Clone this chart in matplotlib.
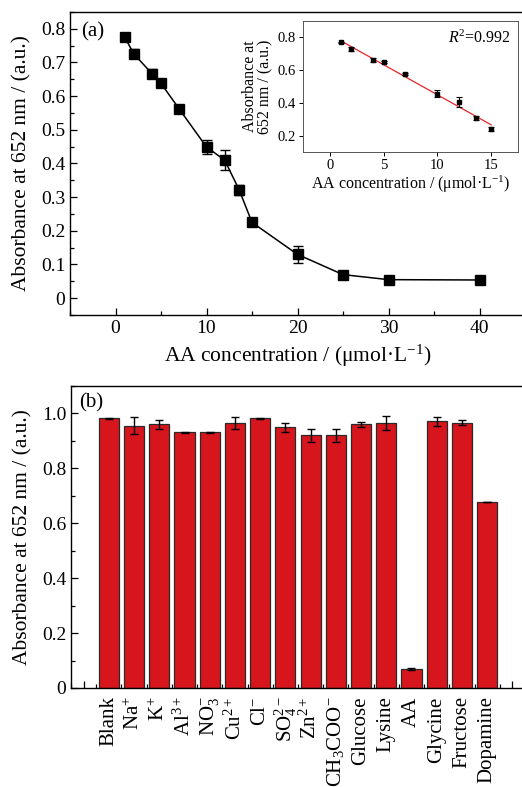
import numpy as np
import matplotlib
matplotlib.use("Agg")
import matplotlib.pyplot as plt
from matplotlib.ticker import MultipleLocator, FixedLocator

plt.rcParams['font.family'] = ['Liberation Serif', 'DejaVu Serif']
plt.rcParams['mathtext.fontset'] = 'custom'
plt.rcParams['mathtext.rm'] = 'Liberation Serif'
plt.rcParams['mathtext.it'] = 'Liberation Serif:italic'
plt.rcParams['mathtext.bf'] = 'Liberation Serif:bold'

# (a) absorbance vs AA concentration
aa_conc = [1, 2, 4, 5, 7, 10, 12, 13.6, 15, 20, 25, 30, 40]
aa_abs = [0.776, 0.726, 0.667, 0.638, 0.562, 0.449, 0.410, 0.321, 0.225,
          0.130, 0.070, 0.055, 0.054]
aa_err = [0.004, 0.014, 0.014, 0.004, 0.006, 0.020, 0.030, 0.016, 0.010,
          0.025, 0.004, 0.004, 0.010]

# inset: linear range
lin_conc = [1, 2, 4, 5, 7, 10, 12, 13.6, 15]
lin_abs = [0.770, 0.729, 0.663, 0.648, 0.576, 0.457, 0.406, 0.305, 0.240]
lin_err = [0.004, 0.012, 0.012, 0.005, 0.008, 0.020, 0.030, 0.012, 0.010]
r2_text = r'$R^2$=0.992'

# (b) selectivity
species = ['Blank', 'Na$^{+}$', 'K$^{+}$', 'Al$^{3+}$', 'NO$_3^{-}$', 'Cu$^{2+}$',
           'Cl$^{-}$', 'SO$_4^{2-}$', 'Zn$^{2+}$', 'CH$_3$COO$^{-}$', 'Glucose',
           'Lysine', 'AA', 'Glycine', 'Fructose', 'Dopamine']
sel_abs = [0.983, 0.956, 0.961, 0.931, 0.931, 0.966, 0.983, 0.949, 0.921,
           0.921, 0.961, 0.965, 0.069, 0.971, 0.967, 0.676]
sel_err = [0.002, 0.031, 0.016, 0.003, 0.003, 0.022, 0.002, 0.017, 0.024,
           0.024, 0.009, 0.025, 0.004, 0.015, 0.009, 0.0]

W, H = 522, 787
fig = plt.figure(figsize=(W / 100, H / 100), dpi=100)

def px_axes(l, t, r, b):
    return fig.add_axes([l / W, 1 - b / H, (r - l) / W, (b - t) / H])

def style_main(ax):
    ax.tick_params(which='both', direction='in', top=False, right=False,
                   labelsize=14, width=0.9)
    ax.tick_params(which='major', length=5)
    ax.tick_params(which='minor', length=3)
    for s in ax.spines.values():
        s.set_linewidth(1.0)

# ---- panel (a)
ax1 = px_axes(70, 12, 525, 315)
ax1.errorbar(aa_conc, aa_abs, yerr=aa_err, color='black', lw=1.1,
             marker='s', ms=6.5, capsize=3.5, elinewidth=1.0, capthick=1.0)
ax1.set_xlim(-5, 45)
ax1.set_ylim(-0.05, 0.85)
ax1.xaxis.set_major_locator(MultipleLocator(10))
ax1.xaxis.set_minor_locator(MultipleLocator(5))
ax1.yaxis.set_major_locator(MultipleLocator(0.1))
ax1.yaxis.set_minor_locator(MultipleLocator(0.05))
ax1.yaxis.set_major_formatter(lambda v, p: '0' if abs(v) < 1e-9 else f'{v:.1f}')
style_main(ax1)
ax1.set_xlabel('AA concentration / (μmol·L$^{-1}$)', fontsize=15.5, labelpad=4)
ax1.set_ylabel('Absorbance at 652 nm / (a.u.)', fontsize=15.5, labelpad=7)
ax1.text(0.025, 0.965, '(a)', transform=ax1.transAxes, fontsize=15,
         ha='left', va='top')

# inset
axi = px_axes(303, 21, 518, 152)
axi.errorbar(lin_conc, lin_abs, yerr=lin_err, color='black', lw=0,
             marker='s', ms=3, capsize=2, elinewidth=0.8, capthick=0.8)
k, b0 = np.polyfit(lin_conc, lin_abs, 1)
xf = np.array([lin_conc[0], lin_conc[-1]])
axi.plot(xf, k * xf + b0, color='#e8242a', lw=0.9, zorder=1)
axi.set_xlim(-2.5, 17.5)
axi.set_ylim(0.1, 0.9)
axi.xaxis.set_major_locator(MultipleLocator(5))
axi.yaxis.set_major_locator(MultipleLocator(0.2))
axi.tick_params(direction='out', labelsize=10.5, length=3, width=0.7, pad=2)
for s in axi.spines.values():
    s.set_linewidth(0.7)
    s.set_color('#555555')
axi.set_xlabel('AA concentration / (μmol·L$^{-1}$)', fontsize=11.5, labelpad=1)
axi.set_ylabel('Absorbance at\n652 nm / (a.u.)', fontsize=11.5, labelpad=3,
               linespacing=1.0)
axi.text(0.97, 0.93, r2_text, transform=axi.transAxes, fontsize=11.5,
         ha='right', va='top')

# ---- panel (b)
ax2 = px_axes(71, 386, 525, 688)
pos = np.arange(len(species))
ax2.bar(pos, sel_abs, width=0.8, color='#d7151c', edgecolor='#2a2a2a',
        linewidth=0.9, zorder=2)
ax2.errorbar(pos, sel_abs, yerr=sel_err, fmt='none', ecolor='black',
             elinewidth=1.0, capsize=3, capthick=1.0, zorder=3)
ax2.set_xlim(-1.5, 16.5)
ax2.set_ylim(0, 1.1)
ax2.xaxis.set_major_locator(FixedLocator(np.arange(-1, 17)))
ax2.xaxis.set_minor_locator(FixedLocator(np.arange(-1.5, 17, 1.0)))
ax2.set_xticklabels([''] + species + [''], rotation=90, va='top', ha='center')
ax2.yaxis.set_major_locator(MultipleLocator(0.2))
ax2.yaxis.set_minor_locator(MultipleLocator(0.1))
ax2.yaxis.set_major_formatter(lambda v, p: '0' if abs(v) < 1e-9 else f'{v:.1f}')
style_main(ax2)
ax2.tick_params(axis='x', which='major', labelsize=15, pad=6)
ax2.set_ylabel('Absorbance at 652 nm / (a.u.)', fontsize=15.5, labelpad=7)
ax2.text(0.018, 0.975, '(b)', transform=ax2.transAxes, fontsize=15,
         ha='left', va='top')

fig.savefig('out.png', dpi=100)
